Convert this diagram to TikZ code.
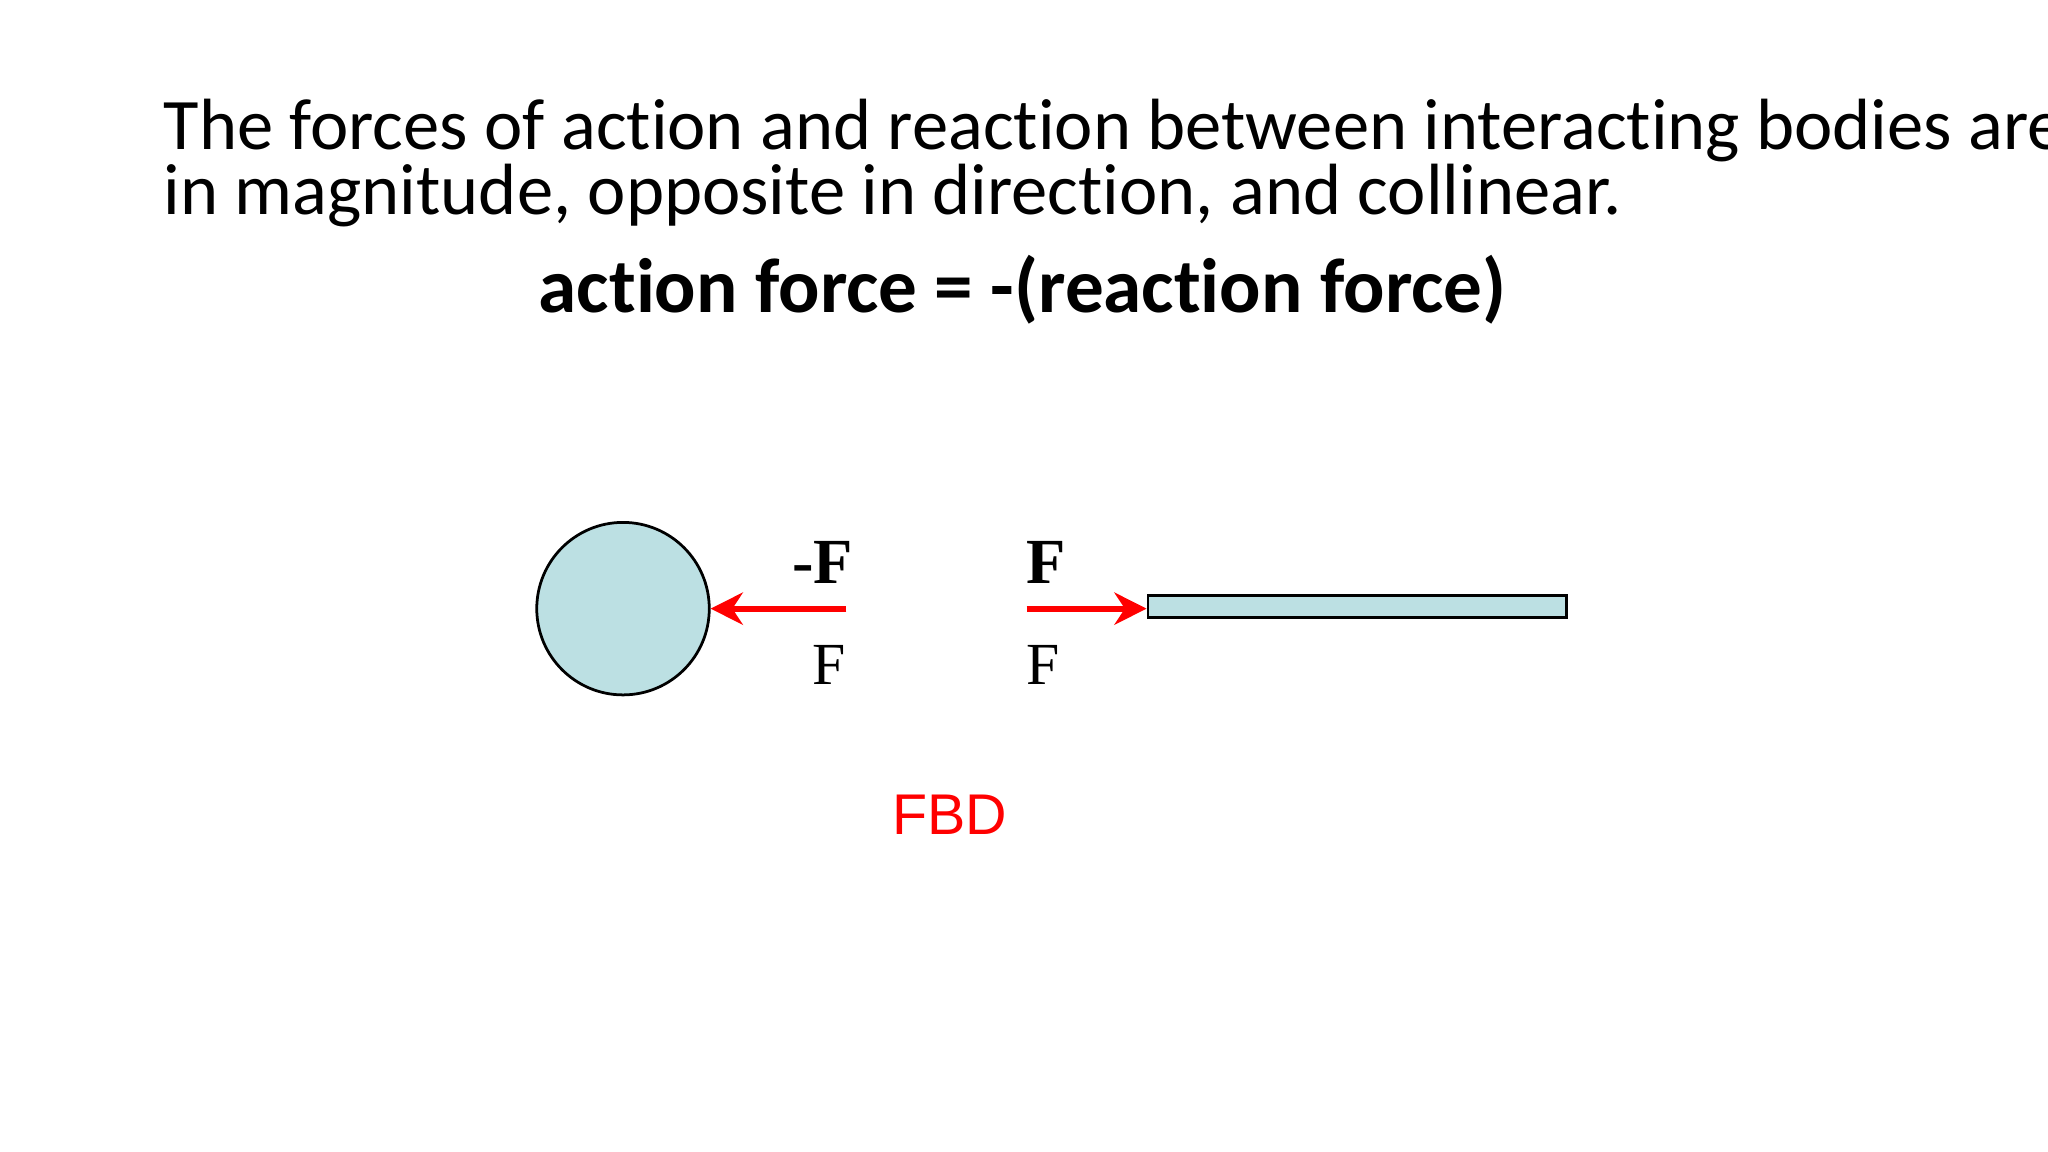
\documentclass[tikz,border=0pt]{standalone}
\usepackage{fontspec}
\usetikzlibrary{arrows.meta}
\setmainfont[Ligatures=NoCommon]{Carlito}
\newfontfamily\tnr{Liberation Serif}
\newfontfamily\arl{Liberation Sans}
\definecolor{body}{HTML}{BCE0E3}
\begin{document}
\begin{tikzpicture}[x=0.01cm,y=-0.01cm,
  force/.style={red,line width=1.3pt,-{Stealth[length=7pt,width=7pt]}},
  lbl/.style={font=\tnr\fontsize{13}{15}\selectfont}]
\useasboundingbox (0,0) rectangle (1568,882);
\node[anchor=west,align=left,font=\fontsize{15.8}{14.2}\selectfont] (t1) at (113,125) {The forces of action and reaction between interacting bodies are equal\\in magnitude, opposite in direction, and collinear.};
\node[font=\bfseries\fontsize{16.8}{20}\selectfont] (t2) at (783,222) {action force = -(reaction force)};
\node[circle,draw,fill=body,minimum size=1.32cm,inner sep=0pt,line width=0.6pt] (c) at (477,466) {};
\node[draw,fill=body,minimum width=3.2cm,minimum height=0.17cm,inner sep=0pt,line width=0.6pt] (r) at (1039,464.5) {};
\coordinate (a1) at (648,466);
\coordinate (a2) at (786,466);
\draw[force] (a1) -- (a1 -| c.east);
\draw[force] (a2) -- (a2 -| r.west);
\node[font=\tnr\bfseries\fontsize{14}{16}\selectfont] (l1) at (630,431) {-F};
\node[font=\tnr\bfseries\fontsize{14}{16}\selectfont] (l2) at (801,431) {F};
\node[lbl] (l3) at (635,509) {F};
\node[lbl] (l4) at (799,509) {F};
\node[red,font=\arl\fontsize{12.5}{15}\selectfont] (fbd) at (727,624) {FBD};
\end{tikzpicture}
\end{document}
